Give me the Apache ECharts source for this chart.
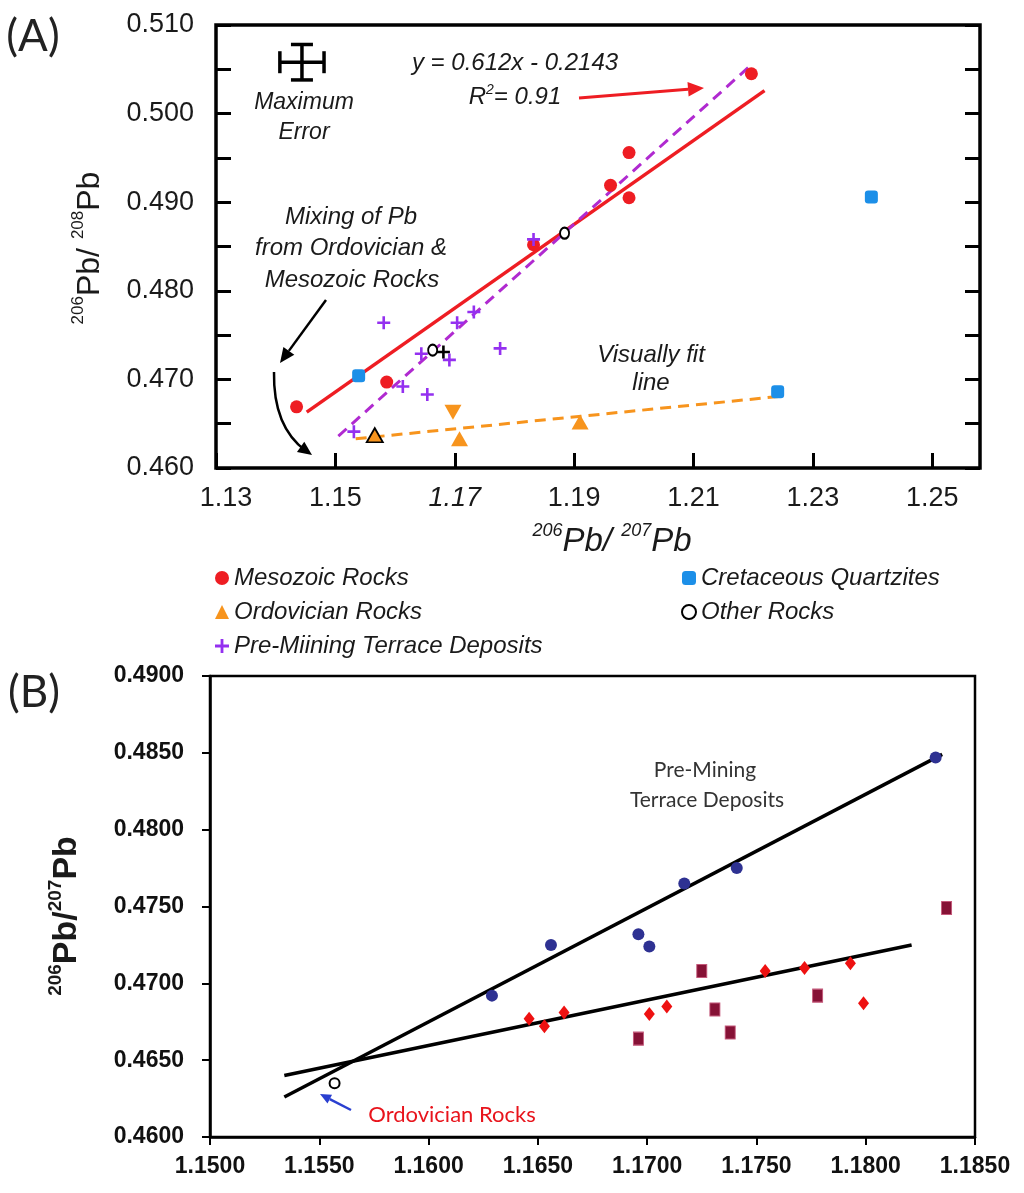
<!DOCTYPE html>
<html>
<head>
<meta charset="utf-8">
<script src="https://cdn.jsdelivr.net/npm/echarts@6/dist/echarts.min.js"></script>
<style>
  html, body { margin: 0; padding: 0; background: #fff; }
  #chart { width: 1024px; height: 1193px; }
</style>
</head>
<body>
<div id="chart"></div>
<script>
// ---- Panel A: 206Pb/207Pb (x) vs 206Pb/208Pb (y) ----
const mesozoicA = [[1.1435, 0.4669], [1.1586, 0.4697], [1.1832, 0.4852], [1.1961, 0.4919],
  [1.1992, 0.4956], [1.1992, 0.4905], [1.2197, 0.5045]];
const ordovicianA = [[1.1708, 0.4633], [1.1910, 0.4652]];
const ordovicianOutlinedA = [[1.1566, 0.4637]];
const ordovicianInvertedA = [[1.1697, 0.4663]];
const terraceA = [[1.1531, 0.4641], [1.1581, 0.4764], [1.1613, 0.4692], [1.1644, 0.4729],
  [1.1654, 0.4683], [1.1691, 0.4722], [1.1704, 0.4764], [1.1732, 0.4776], [1.1776, 0.4735],
  [1.1832, 0.4858]];
const cretaceousA = [[1.1539, 0.4704], [1.2241, 0.4686], [1.2398, 0.4906]];
const otherRocksA = [[1.1663, 0.4733], [1.1884, 0.4865]];
const otherPlusA = [[1.1681, 0.4731]];
const mesozoicFitA = [[1.1452, 0.4663], [1.2219, 0.5026]];
const terraceFitA = [[1.1505, 0.4636], [1.2200, 0.5057]];
const ordovicianFitA = [[1.1534, 0.4633], [1.2247, 0.4681]];
// centre x, centre y, half error x, half error y
const maxErrorA = [[1.1444, 0.5058, 0.0037, 0.0020]];

// ---- Panel B ----
const terraceB = [[1.1629, 0.4692], [1.1656, 0.4725], [1.1696, 0.4732], [1.1701, 0.4724],
  [1.1717, 0.4765], [1.1741, 0.4775], [1.1832, 0.4847]];
const diamondsB = [[1.1646, 0.4677], [1.1653, 0.4672], [1.1662, 0.4681], [1.1701, 0.4680],
  [1.1709, 0.4685], [1.1754, 0.4708], [1.1772, 0.4710], [1.1793, 0.4713], [1.1799, 0.4687]];
const squaresB = [[1.1696, 0.4664], [1.1725, 0.4708], [1.1731, 0.4683], [1.1738, 0.4668],
  [1.1778, 0.4692], [1.1837, 0.4749]];
const ordovicianB = [[1.1557, 0.4635]];
const terraceFitB = [[1.1534, 0.4626], [1.1835, 0.4849]];
const otherFitB = [[1.1534, 0.4640], [1.1821, 0.4725]];

const SANS = '"Liberation Sans", Arial, sans-serif';
const CAL = 'Lato, "Open Sans", sans-serif';
const PLUS = 'path://M4,0H6V4H10V6H6V10H4V6H0V4H4Z';

const RED = '#ee1d23', ORANGE = '#f7941d', PURPLE = '#9430f0', BLUE = '#1c8fe8';

function arrow(x1, y1, x2, y2, color, w, head) {
  const a = Math.atan2(y2 - y1, x2 - x1);
  const bx = x2 - head * Math.cos(a), by = y2 - head * Math.sin(a);
  const px = -Math.sin(a) * head * 0.45, py = Math.cos(a) * head * 0.45;
  return [
    { type: 'line', shape: { x1: x1, y1: y1, x2: bx, y2: by }, style: { stroke: color, lineWidth: w } },
    { type: 'polygon', shape: { points: [[x2, y2], [bx + px, by + py], [bx - px, by - py]] }, style: { fill: color } }
  ];
}

function label(text, x, y, opts) {
  opts = opts || {};
  return {
    type: 'text', x: x, y: y, rotation: opts.rotation || 0,
    style: {
      text: text, fill: opts.color || '#1a1a1a',
      fontSize: opts.size || 24, fontFamily: opts.family || SANS,
      fontStyle: opts.style || 'normal', fontWeight: opts.weight || 'normal',
      align: 'center', verticalAlign: 'middle',
      textAlign: 'center', textVerticalAlign: 'middle',
      lineHeight: opts.lineHeight, rich: opts.rich
    }
  };
}

function supRich(big, small, style, weight) {
  return {
    b: { fontSize: big, fontStyle: style, fontWeight: weight, fontFamily: SANS, lineHeight: big + 4, fill: '#1a1a1a', verticalAlign: 'bottom' },
    s: { fontSize: small, fontStyle: style, fontWeight: weight, fontFamily: SANS, lineHeight: big + 4, fill: '#1a1a1a', verticalAlign: 'top', padding: [0, 0, big * 0.35, 0] }
  };
}

const chart = echarts.init(document.getElementById('chart'));

const curveEnd = [312, 455], curveCtrl = [273, 427];
const curveHead = arrow(curveCtrl[0], curveCtrl[1], curveEnd[0], curveEnd[1], '#000', 2.5, 14)[1];

const graphics = [
  label('(A)', 33, 37, { size: 44, family: CAL, color: '#222' }),
  label('(B)', 34, 693, { size: 44, family: CAL, color: '#222' }),
  label('Maximum', 304, 103, { style: 'italic', size: 23 }),
  label('Error', 304, 133, { style: 'italic', size: 23 }),
  label('y = 0.612x - 0.2143', 515, 63, { style: 'italic', size: 24 }),
  label('R{s|2}= 0.91', 515, 97, {
    style: 'italic', size: 24, lineHeight: 28,
    rich: { s: { fontSize: 14, fontStyle: 'italic', fontFamily: SANS, verticalAlign: 'top', lineHeight: 28, padding: [0, 0, 10, 0] } }
  }),
  label('Mixing of Pb', 351, 217, { style: 'italic', size: 24 }),
  label('from Ordovician &', 351, 248, { style: 'italic', size: 24 }),
  label('Mesozoic Rocks', 352, 280, { style: 'italic', size: 24 }),
  label('Visually fit', 651, 355, { style: 'italic', size: 24 }),
  label('line', 651, 383, { style: 'italic', size: 24 }),
  label('{s|206}{b|Pb/ }{s|207}{b|Pb}', 612, 540, { rich: supRich(33, 18, 'italic', 'normal') }),
  label('{s|206}{b|Pb/ }{s|208}{b|Pb}', 88, 248, { rotation: Math.PI / 2, rich: supRich(32, 17, 'normal', 'normal') }),
  label('{s|206}{b|Pb/}{s|207}{b|Pb}', 65, 916, { rotation: Math.PI / 2, rich: supRich(34, 19, 'normal', 'bold') }),
  label('Pre-Mining', 705, 770, { size: 21, family: CAL, color: '#333' }),
  label('Terrace Deposits', 707, 800, { size: 21, family: CAL, color: '#333' }),
  label('Ordovician Rocks', 452, 1115, { size: 22, family: CAL, color: '#e8141c' }),
  {
    type: 'bezierCurve',
    shape: { x1: 274, y1: 372, cpx1: curveCtrl[0], cpy1: curveCtrl[1], x2: curveEnd[0] - 6, y2: curveEnd[1] - 4 },
    style: { stroke: '#000', lineWidth: 2.5, fill: null }
  },
  curveHead
].concat(
  arrow(579, 98, 704, 88, RED, 3, 16),
  arrow(326, 300, 280, 363, '#000', 2.5, 15),
  arrow(351, 1110, 320, 1094, '#2a3fd0', 2.5, 11)
);

function scatter(name, data, symbol, size, color, extra) {
  return Object.assign({
    name: name, type: 'scatter', xAxisIndex: 0, yAxisIndex: 0, data: data,
    symbol: symbol, symbolSize: size, itemStyle: { color: color, opacity: 1 }, z: 4
  }, extra || {});
}

function fitLine(data, color, dashed, axis) {
  return {
    type: 'line', xAxisIndex: axis, yAxisIndex: axis === 0 ? 0 : 2, data: data,
    symbol: 'none', silent: true, z: 2,
    lineStyle: { color: color, width: dashed ? 3 : 3.5, type: dashed ? [11, 7] : 'solid' }
  };
}

const tickLabelA = { fontSize: 27, color: '#1a1a1a', fontFamily: SANS };
const tickLabelB = { fontSize: 23, color: '#111', fontFamily: SANS, fontWeight: 'bold' };

chart.setOption({
  animation: false,
  backgroundColor: '#fff',
  grid: [
    { left: 216, top: 25, width: 764, height: 443, show: true, borderColor: '#000', borderWidth: 3.5, outerBoundsMode: 'none' },
    { left: 210, top: 676, width: 765, height: 461, show: true, borderColor: '#000', borderWidth: 2.5, outerBoundsMode: 'none' }
  ],
  xAxis: [
    {
      type: 'value', gridIndex: 0, min: 1.13, max: 1.258, interval: 0.02,
      axisLine: { show: false }, splitLine: { show: false },
      axisTick: { inside: true, length: 15, lineStyle: { color: '#000', width: 3 } },
      axisLabel: Object.assign({
        margin: 17, showMaxLabel: false,
        formatter: function (v) {
          const k = (v - 1.13) / 0.02;
          if (Math.abs(k - Math.round(k)) > 1e-6) return '';
          const s = v.toFixed(2);
          if (s === '1.13') return '{p|' + s + '}';
          return s === '1.17' ? '{i|' + s + '}' : s;
        },
        rich: {
          i: { fontSize: 27, fontStyle: 'italic', fontFamily: SANS, color: '#1a1a1a' },
          p: { fontSize: 27, fontFamily: SANS, color: '#1a1a1a', padding: [0, 0, 0, 20] }
        }
      }, tickLabelA)
    },
    {
      type: 'value', gridIndex: 1, min: 1.15, max: 1.185, interval: 0.005,
      axisLine: { show: true, lineStyle: { color: '#000', width: 2.5 } }, splitLine: { show: false },
      axisTick: { inside: false, length: 8, lineStyle: { color: '#000', width: 2 } },
      axisLabel: Object.assign({ margin: 18, formatter: function (v) { return v.toFixed(4); } }, tickLabelB)
    }
  ],
  yAxis: [
    {
      type: 'value', gridIndex: 0, min: 0.46, max: 0.51, interval: 0.005,
      axisLine: { show: false }, splitLine: { show: false },
      axisTick: { inside: true, length: 15, lineStyle: { color: '#000', width: 3 } },
      axisLabel: Object.assign({
        margin: 22,
        formatter: function (v) { return Math.round(v * 1000) % 10 === 0 ? v.toFixed(3) : ''; }
      }, tickLabelA)
    },
    {
      type: 'value', gridIndex: 0, position: 'right', min: 0.46, max: 0.51, interval: 0.005,
      axisLine: { show: false }, splitLine: { show: false }, axisLabel: { show: false },
      axisTick: { inside: true, length: 15, lineStyle: { color: '#000', width: 3 } }
    },
    {
      type: 'value', gridIndex: 1, min: 0.46, max: 0.49, interval: 0.005,
      axisLine: { show: true, lineStyle: { color: '#000', width: 2.5 } }, splitLine: { show: false },
      axisTick: { inside: false, length: 8, lineStyle: { color: '#000', width: 2 } },
      axisLabel: Object.assign({ margin: 26, formatter: function (v) { return v.toFixed(4); } }, tickLabelB)
    }
  ],
  legend: [
    {
      data: ['Mesozoic Rocks', 'Ordovician Rocks', 'Pre-Miining Terrace Deposits'],
      orient: 'vertical', left: 210, top: 561, itemWidth: 14, itemHeight: 14, itemGap: 10,
      selectedMode: false,
      textStyle: { fontSize: 24, fontStyle: 'italic', color: '#1a1a1a', fontFamily: SANS, lineHeight: 24 }
    },
    {
      data: ['Cretaceous Quartzites', 'Other Rocks'],
      orient: 'vertical', left: 676, top: 561, itemWidth: 14, itemHeight: 14, itemGap: 10,
      selectedMode: false,
      textStyle: { fontSize: 24, fontStyle: 'italic', color: '#1a1a1a', fontFamily: SANS, lineHeight: 24 }
    }
  ],
  graphic: graphics,
  series: [
    fitLine(mesozoicFitA, RED, false, 0),
    fitLine(terraceFitA, '#b02ad0', true, 0),
    fitLine(ordovicianFitA, ORANGE, true, 0),
    scatter('Mesozoic Rocks', mesozoicA, 'circle', 13, RED),
    scatter('Ordovician Rocks', ordovicianA, 'triangle', [17, 15], ORANGE),
    scatter('Ordovician outlined', ordovicianOutlinedA, 'triangle', [16, 14], ORANGE,
      { itemStyle: { color: ORANGE, borderColor: '#000', borderWidth: 1.8, opacity: 1 } }),
    scatter('Ordovician inverted', ordovicianInvertedA, 'triangle', [17, 15], ORANGE, { symbolRotate: 180 }),
    scatter('Pre-Miining Terrace Deposits', terraceA, PLUS, 13, PURPLE),
    scatter('Cretaceous Quartzites', cretaceousA, 'roundRect', 13, BLUE),
    scatter('Other Rocks', otherRocksA, 'emptyCircle', [9, 11], '#000',
      { itemStyle: { color: '#000', borderColor: '#000', borderWidth: 2.5, opacity: 1 } }),
    scatter('Other plus', otherPlusA, PLUS, 13, '#000'),
    {
      type: 'custom', xAxisIndex: 0, yAxisIndex: 0, data: maxErrorA, silent: true, z: 5,
      renderItem: function (params, api) {
        const c = api.coord([api.value(0), api.value(1)]);
        const s = api.size([api.value(2), api.value(3)]);
        const dx = s[0], dy = s[1], cap = 11;
        const st = { stroke: '#000', lineWidth: 3.5 };
        const ln = function (x1, y1, x2, y2) { return { type: 'line', shape: { x1: x1, y1: y1, x2: x2, y2: y2 }, style: st }; };
        return {
          type: 'group', children: [
            ln(c[0] - dx, c[1], c[0] + dx, c[1]),
            ln(c[0] - dx, c[1] - cap, c[0] - dx, c[1] + cap),
            ln(c[0] + dx, c[1] - cap, c[0] + dx, c[1] + cap),
            ln(c[0], c[1] - dy, c[0], c[1] + dy),
            ln(c[0] - cap, c[1] - dy, c[0] + cap, c[1] - dy),
            ln(c[0] - cap, c[1] + dy, c[0] + cap, c[1] + dy)
          ]
        };
      }
    },
    fitLine(terraceFitB, '#000', false, 1),
    fitLine(otherFitB, '#000', false, 1),
    Object.assign(scatter('Terrace B', terraceB, 'circle', 12, '#2e3192'), { xAxisIndex: 1, yAxisIndex: 2 }),
    Object.assign(scatter('Diamonds B', diamondsB, 'diamond', [11, 14], '#ee1111'), { xAxisIndex: 1, yAxisIndex: 2 }),
    Object.assign(scatter('Squares B', squaresB, 'rect', [10, 13], '#861236'),
      { xAxisIndex: 1, yAxisIndex: 2, itemStyle: { color: '#861236', borderColor: '#c4587a', borderWidth: 1, opacity: 1 } }),
    Object.assign(scatter('Ordovician B', ordovicianB, 'emptyCircle', 10, '#000'),
      { xAxisIndex: 1, yAxisIndex: 2, itemStyle: { color: '#000', borderColor: '#000', borderWidth: 1.5, opacity: 1 } })
  ]
});
</script>
</body>
</html>
